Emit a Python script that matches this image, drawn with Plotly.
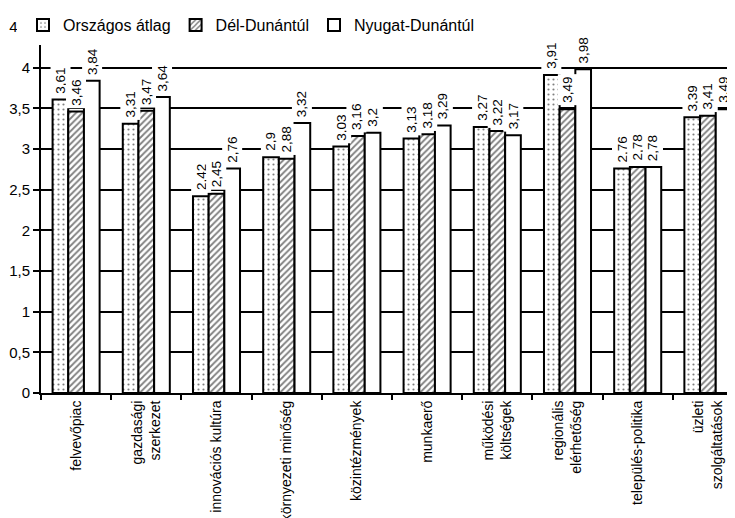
import plotly.graph_objects as go

categories = ["felvevőpiac", "gazdasági<br>szerkezet", "innovációs kultúra",
              "környezeti minőség", "közintézmények", "munkaerő",
              "működési<br>költségek", "regionális<br>elérhetőség",
              "település-politika", "üzleti<br>szolgáltatások"]
series_names = ["Országos átlag", "Dél-Dunántúl", "Nyugat-Dunántúl"]
orszagos = [3.61, 3.31, 2.42, 2.90, 3.03, 3.13, 3.27, 3.91, 2.76, 3.39]
del_dunantul = [3.46, 3.47, 2.45, 2.88, 3.16, 3.18, 3.22, 3.49, 2.78, 3.41]
nyugat_dunantul = [3.84, 3.64, 2.76, 3.32, 3.20, 3.29, 3.17, 3.98, 2.78, 3.49]
y_ticks = [0, 0.5, 1, 1.5, 2, 2.5, 3, 3.5, 4, 4.5]

series = [orszagos, del_dunantul, nyugat_dunantul]
patterns = [dict(shape=".", fgcolor="black", bgcolor="white", size=5, solidity=0.15),
            dict(shape="/", fgcolor="black", bgcolor="white", size=4.5, solidity=0.4),
            dict(shape="", fgcolor="black", bgcolor="white")]

FONT = "Liberation Sans, Arial, sans-serif"
W, H = 735, 518
L, R, T, B = 33, 0, 19, 133
pw, ph = W - L - R, H - T - B
BARGAP = 0.33
bw = (1 - BARGAP) / 3

fig = go.Figure()
for name, vals, pat in zip(series_names, series, patterns):
    fig.add_trace(go.Bar(
        name=name, x=categories, y=vals,
        marker=dict(color="white", pattern=pat, line=dict(color="black", width=2)),
        hoverinfo="skip",
    ))

annotations = []
for j, vals in enumerate(series):
    off = (j - 1) * bw
    for i, v in enumerate(vals):
        annotations.append(dict(
            x=i + off, y=v, xref="x", yref="y",
            text=("%g" % v).replace(".", ","),
            textangle=-90, showarrow=False,
            xanchor="center", yanchor="bottom", yshift=3,
            bgcolor="white", borderpad=2,
            font=dict(family=FONT, size=13.5, color="black"),
        ))

def px_x(p):
    return (p - L) / pw

def px_y(p):
    return 1 - (p - T) / ph

fig.update_layout(
    width=W, height=H,
    margin=dict(l=L, r=R, t=T, b=B),
    paper_bgcolor="white", plot_bgcolor="white",
    separators=", ",
    barmode="group", bargap=BARGAP, bargroupgap=0,
    font=dict(family=FONT, size=15, color="black"),
    showlegend=True,
    legend=dict(orientation="h", x=px_x(15), y=px_y(0), xanchor="left", yanchor="top",
                bgcolor="white", borderwidth=0, font=dict(family=FONT, size=16),
                traceorder="normal"),
    annotations=annotations,
    shapes=[dict(type="rect", xref="paper", yref="paper",
                 x0=px_x(9), x1=px_x(482), y0=px_y(37), y1=px_y(0),
                 fillcolor="white", line=dict(width=0), layer="above")],
    xaxis=dict(type="category", range=[-0.5, 9.5],
               showline=True, linecolor="black", linewidth=2,
               ticks="outside", tickson="boundaries", ticklen=5, tickwidth=2,
               tickcolor="black", tickangle=-90, showgrid=False, automargin=False,
               tickfont=dict(family=FONT, size=14)),
    yaxis=dict(range=[0, 4.5], tickvals=y_ticks,
               showline=True, linecolor="black", linewidth=2,
               ticks="outside", ticklen=6, tickwidth=2, tickcolor="black",
               showgrid=True, gridcolor="black", gridwidth=2, zeroline=False,
               automargin=False, tickfont=dict(family=FONT, size=15)),
)

fig.write_html("out.html")
